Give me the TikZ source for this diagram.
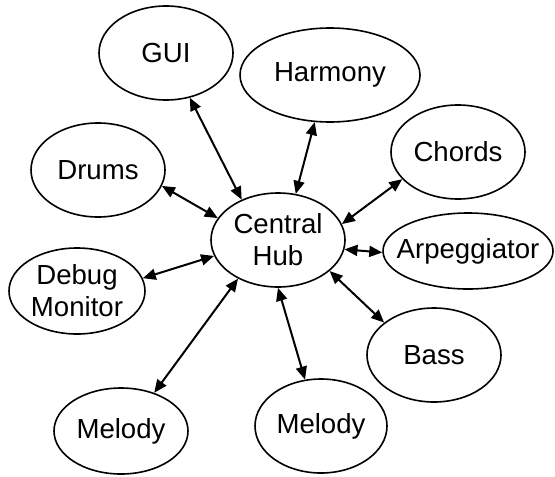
\documentclass[tikz,border=0pt]{standalone}
\usepackage{fontspec}
\setmainfont{Liberation Sans}
\usetikzlibrary{arrows.meta,shapes.geometric}

\begin{document}
\begin{tikzpicture}[
  x=0.5pt,y=-0.5pt,
  module/.style={draw,ellipse,line width=0.8pt,inner sep=0pt,minimum width=67pt,minimum height=47pt,align=center,font=\fontsize{13.8}{16}\selectfont},
  arrow/.style={{Triangle[length=6.5pt,width=5.5pt]}-{Triangle[length=6.5pt,width=5.5pt]},line width=1pt}
]
  \useasboundingbox (0,0) rectangle (555,476);
  \node[module] (hub) at (278,240) {Central\\Hub};
  \node[module] (gui) at (166,53) {GUI};
  \node[module,minimum width=90pt] (harmony) at (330,75) {Harmony};
  \node[module] (chords) at (458,152) {Chords};
  \node[module] (drums) at (98,170) {Drums};
  \node[module,inner xsep=-6pt,minimum width=85pt,minimum height=38pt] (arp) at (468,251) {Arpeggiator};
  \node[module,minimum width=68pt,minimum height=43pt] (debug) at (77,291) {Debug\\Monitor};
  \node[module] (bass) at (434,355) {Bass};
  \node[module,minimum height=43pt] (melody1) at (121,431) {Melody};
  \node[module,minimum width=66pt] (melody2) at (321,426) {Melody};
  \draw[arrow] (gui.-62) -- (hub.132);
  \draw[arrow] (harmony.-108) -- (hub.69);
  \draw[arrow] (chords.206) -- (hub.14);
  \draw[arrow] (drums.-14) -- (hub.160);
  \draw[arrow] (hub.-8) -- (arp.181);
  \draw[arrow] (debug.11) -- (hub.194);
  \draw[arrow] (melody1.49) -- (hub.224);
  \draw[arrow] (melody2.109) -- (hub.270);
  \draw[arrow] (hub.-31) -- (bass.147);
\end{tikzpicture}
\end{document}
